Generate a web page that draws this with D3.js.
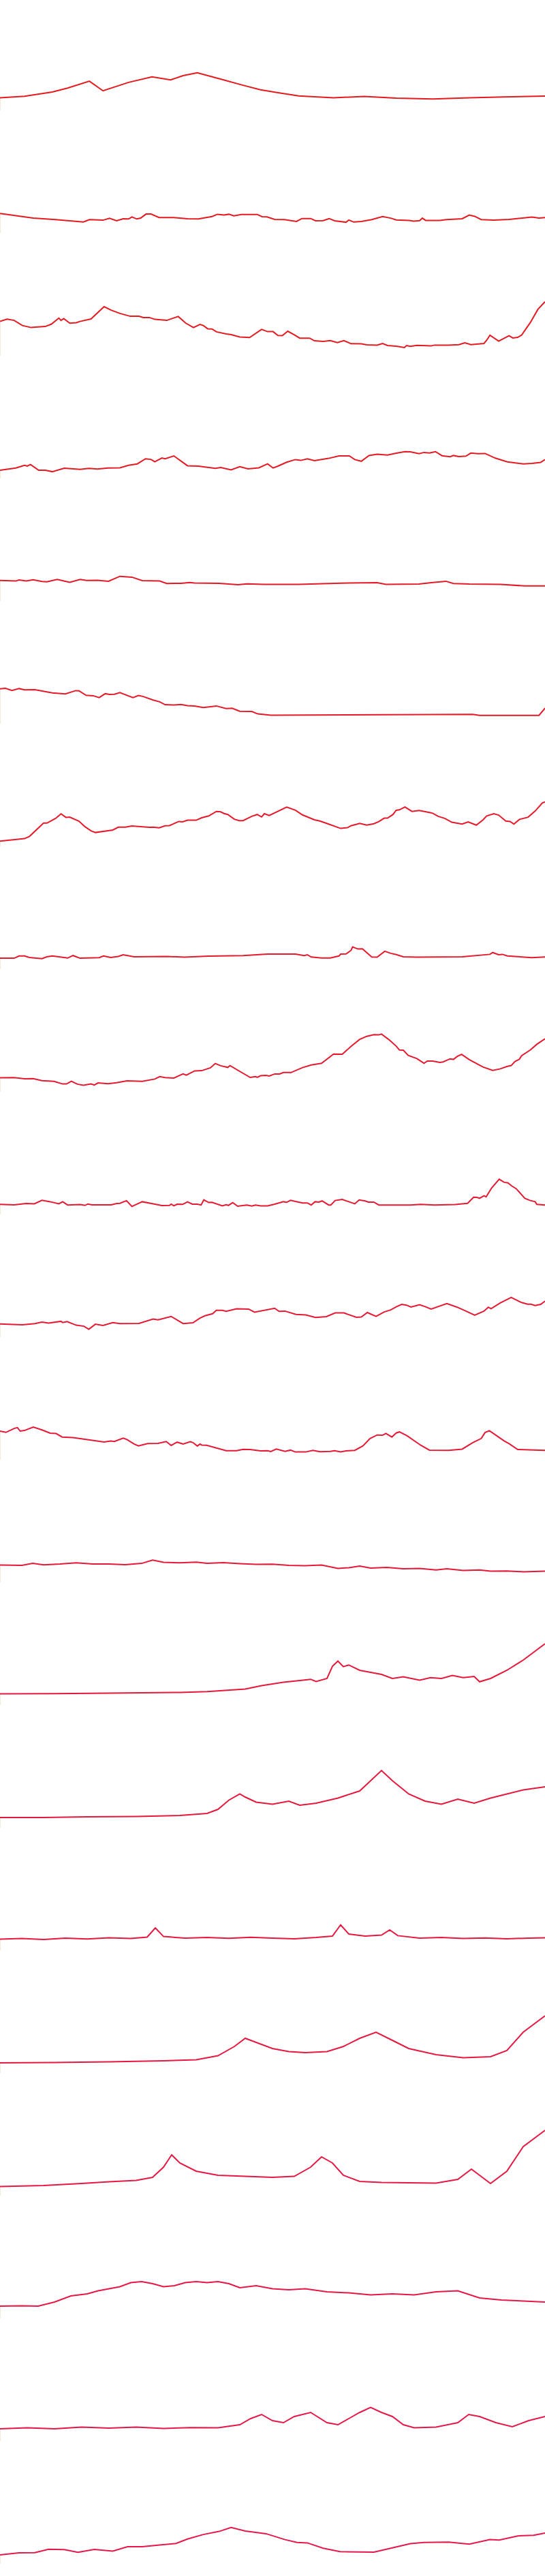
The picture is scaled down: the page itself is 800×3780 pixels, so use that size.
<!DOCTYPE html>
<html lang="en">
<head>
<meta charset="UTF-8">
<title>Sparklines</title>
<script src="https://cdn.jsdelivr.net/npm/d3@7"></script>
<style>
*{margin:0;padding:0;box-sizing:border-box}
body{background:#fff}
svg{display:block}
</style>
</head>
<body>
<div id="chart"></div>
<script>
// one t (0-100) and one value array per small panel
const T01=[0,4.5,9.6,12.4,16.4,18.9,23.6,27.9,31.3,33.6,36.2,40.8,44.6,47.8,51.0,54.8,61.2,66.8,72.7,79.4,86.1,92.5,100];
const V01=[6.2,6.9,9.0,10.9,14.3,9.6,13.7,16.4,14.9,17.0,18.4,15.1,12.3,10.1,8.7,7.1,6.2,6.8,6.0,5.6,6.2,6.6,7.0];

const T02=[0,6.1,10.2,15.3,16.4,18.9,20.1,21.4,22.6,23.6,24.2,25.1,25.8,26.8,27.7,29.2,31.9,34.4,36.4,38.9,39.9,41.1,42.0,42.9,44.3,47.2,48.1,49.0,50.4,52.2,54.4,55.4,57.0,57.9,59.3,60.4,61.4,63.5,64.0,64.9,66.3,68.2,70.2,71.7,72.7,75.1,75.9,77.0,77.5,78.1,80.7,81.9,84.8,86.1,87.1,88.3,90.6,93.4,97.6,98.9,100];
const V02=[9.6,7.3,6.6,5.4,6.6,6.3,7.2,6.0,7.0,6.9,7.9,6.9,7.3,9.3,9.3,7.6,7.6,7.0,6.9,8.1,9.2,8.8,9.2,8.4,9.1,9.1,8.0,7.9,6.7,6.6,5.7,7.1,7.1,6.0,6.1,7.1,6.0,5.3,6.4,5.4,5.7,6.6,8.1,7.3,6.4,6.2,5.8,6.1,7.3,6.2,6.2,6.6,7.0,8.8,8.2,6.6,6.3,6.7,7.8,7.3,7.6];

const T03=[0,1.3,2.6,4.1,5.7,8.3,9.4,10.8,11.2,11.7,12.8,14.0,14.7,16.7,19.1,20.4,22.0,23.9,25.5,26.3,27.4,28.4,30.6,32.7,34.1,35.5,36.7,37.3,38.1,38.9,39.7,41.5,42.4,44.0,45.8,48.0,49.1,50.1,51.0,51.8,52.8,53.9,55.0,56.8,57.7,59.3,60.6,61.9,63.1,64.4,66.3,67.3,69.2,70.2,71.1,72.7,74.2,74.6,75.3,76.5,79.1,79.7,82.3,84.2,85.3,86.4,88.8,89.3,89.9,91.5,93.4,94.1,95.0,95.7,97.3,98.7,100];
const V03=[16.8,17.9,17.3,14.8,13.8,14.3,15.4,18.4,17.3,18.2,15.9,16.2,16.8,18.0,24.0,22.3,20.7,19.3,19.3,18.7,18.7,17.8,17.3,19.2,15.9,13.8,15.3,14.8,13.2,13.1,11.7,10.7,10.3,9.2,8.9,12.9,11.8,11.8,9.9,9.8,12.0,10.4,8.6,8.6,7.3,7.0,7.4,6.4,7.4,5.9,5.8,5.3,5.2,6.0,5.0,4.7,4.0,5.0,4.6,5.1,4.8,5.2,5.2,5.4,6.3,5.4,6.0,7.6,10.0,7.1,9.8,8.7,9.0,10.1,16.2,22.7,26.4];

const T04=[0,2.9,4.5,5.0,5.6,7.1,8.3,9.6,11.8,14.7,16.3,17.9,19.8,22.0,23.6,25.2,26.7,27.7,28.4,29.7,30.3,31.9,34.4,36.4,39.5,40.5,42.4,44.0,45.5,47.5,49.1,50.1,51.0,52.6,54.2,55.2,56.4,57.7,60.3,62.2,64.1,65.1,66.3,67.7,69.2,71.1,72.7,74.3,75.3,76.9,77.8,78.8,79.9,81.1,82.6,83.2,84.2,85.5,86.4,87.7,89.0,90.9,93.1,96.0,97.6,99.2,100];
const V04=[4.0,5.1,6.4,6.0,6.8,4.0,4.0,3.3,5.0,4.4,4.9,4.6,5.1,5.2,6.4,7.1,9.6,9.3,8.1,10.0,9.6,11.0,6.2,6.0,4.9,5.3,4.2,5.7,4.7,5.2,7.1,5.1,6.0,7.9,9.2,8.8,9.6,8.7,9.8,11.0,11.0,9.2,8.4,11.2,11.8,11.4,12.3,13.1,13.0,12.1,12.7,12.4,13.1,11.1,10.6,11.2,10.7,10.9,12.4,12.1,12.2,9.9,8.1,7.1,7.3,7.8,9.2];

const T05=[0,2.9,3.5,4.8,6.1,7.7,8.6,10.5,12.8,14.7,15.9,17.9,19.9,22.0,24.2,26.1,29.3,30.6,33.2,34.8,35.7,40.2,43.7,45.3,48.5,54.8,63.8,69.2,70.8,76.9,79.1,81.8,83.2,86.1,91.8,96.3,100];
const V05=[10.1,9.8,10.3,9.8,10.4,9.6,9.4,10.6,9.2,10.6,10.1,10.2,9.7,12.1,11.7,10.0,9.8,8.6,8.7,9.1,8.8,8.7,8.0,8.4,8.2,8.2,8.8,9.0,8.2,8.3,9.0,9.7,8.6,8.3,8.2,7.4,7.4];

const T06=[0,1.0,2.2,3.5,4.5,6.4,9.6,12.0,13.9,14.5,15.8,17.1,18.2,19.3,20.1,21.0,22.0,24.4,25.4,26.3,28.1,29.3,30.3,31.9,33.2,34.4,35.7,37.3,39.7,41.5,42.6,44.0,46.2,47.3,49.7,86.7,88.0,98.9,100];
const V06=[17.1,17.3,16.3,17.2,16.6,16.7,15.1,14.6,16.2,16.1,13.9,13.7,12.8,14.7,14.3,14.4,15.2,12.8,13.8,13.3,11.6,10.7,9.3,9.2,9.4,8.8,8.7,7.9,8.7,7.4,7.6,6.1,6.0,4.8,4.2,4.6,4.1,4.1,7.6];

const T07=[0,4.5,5.4,7.7,8.0,8.6,10.2,11.2,12.1,12.8,14.5,15.6,16.7,17.5,20.7,21.7,23.0,24.2,27.4,28.1,29.2,30.3,31.1,32.8,33.5,34.4,36.0,37.0,38.3,39.7,40.5,41.1,41.8,43.0,43.9,44.6,46.2,47.2,48.0,48.5,49.4,52.6,54.2,55.5,57.7,58.7,60.3,62.5,63.8,64.4,66.0,67.3,68.6,69.5,70.5,71.1,72.1,72.7,73.3,74.3,75.6,76.9,78.8,79.4,80.4,81.6,82.9,84.8,85.9,87.4,88.6,89.3,90.6,91.5,92.8,93.6,94.3,95.3,96.9,98.2,99.5,100];
const V07=[2.6,3.8,4.9,10.7,11.4,11.4,13.7,15.9,14.2,14.3,12.3,9.6,7.6,6.8,8.0,9.4,9.4,10.0,9.3,9.4,9.1,10.1,10.2,12.2,12.0,12.8,12.8,14.0,14.9,17.1,16.9,16.1,15.6,13.3,12.6,12.6,14.7,15.6,14.4,16.0,15.1,19.2,17.7,15.4,13.0,12.4,10.9,8.8,9.2,10.1,11.2,10.4,11.1,12.1,13.8,13.8,15.6,17.7,17.9,19.3,17.1,17.6,16.6,16.2,14.7,13.7,11.8,10.9,12.0,10.4,12.9,14.9,16.0,15.3,12.4,12.2,10.9,13.2,14.3,17.3,21.2,21.8];

const T08=[0,2.6,3.5,4.5,5.4,7.7,8.6,9.6,12.4,13.4,14.7,18.2,19.0,20.3,21.7,22.6,24.6,30.6,33.8,38.3,44.6,49.1,54.2,55.8,56.4,57.1,59.0,60.6,62.2,62.5,63.5,64.4,64.7,65.7,66.5,68.2,69.2,70.6,71.7,72.7,74.0,76.5,84.8,89.9,90.4,91.5,92.2,93.1,97.6,100];
const V08=[5.3,5.3,6.4,6.4,5.7,5.1,6.0,6.4,5.4,6.6,5.3,5.6,6.4,5.7,6.2,7.0,6.0,6.2,5.8,6.3,6.6,7.3,7.3,6.6,7.0,5.9,5.4,5.4,6.4,7.3,7.4,9.1,10.8,9.8,9.9,5.9,5.8,8.7,7.7,7.1,6.0,5.8,6.0,7.2,8.1,7.0,7.2,6.4,5.6,5.9];

const T09=[0,2.6,4.5,6.1,7.7,9.9,11.5,12.2,13.1,14.2,15.3,16.7,17.3,18.0,19.8,21.4,23.3,26.1,28.4,29.3,30.3,31.9,33.2,33.6,34.2,35.7,37.0,38.6,39.5,40.5,41.8,42.2,45.9,46.9,47.2,47.8,48.8,49.4,50.4,51.3,52.0,53.4,55.5,57.1,59.0,61.2,62.8,64.4,66.0,67.3,68.6,69.5,70.0,71.4,72.7,73.3,74.0,74.9,76.5,77.4,77.8,78.4,79.4,80.7,81.3,82.6,83.2,83.9,84.7,86.1,88.6,90.4,91.8,93.1,93.8,94.5,95.3,95.7,97.3,98.5,100];
const V09=[6.8,6.9,6.3,6.4,5.4,5.1,3.8,3.8,5.1,3.7,3.2,3.8,3.3,4.3,3.9,4.4,5.3,5.1,6.2,7.4,6.9,6.7,8.3,8.7,8.1,10.2,10.3,11.7,13.8,12.7,11.9,12.8,7.0,7.4,7.0,7.8,8.0,7.7,8.7,8.7,9.4,9.4,11.8,13.1,13.9,18.4,18.3,22.2,25.6,27.1,27.9,27.8,28.2,25.4,22.3,20.4,20.3,17.8,16.2,14.6,13.9,15.0,15.0,14.3,14.6,16.1,15.8,17.3,18.3,15.7,12.1,10.4,11.2,12.4,12.8,14.8,15.9,17.6,20.4,23.2,25.9];

const T10=[0,2.6,4.8,6.3,7.7,9.2,10.8,11.5,12.4,14.7,15.6,16.1,16.9,20.4,21.4,22.0,23.2,24.2,26.1,28.1,29.7,31.1,31.4,31.9,32.5,33.5,34.4,35.3,36.2,36.9,37.4,38.3,38.9,40.8,41.5,41.9,42.7,43.6,45.3,46.2,46.9,47.8,49.1,50.4,52.0,52.6,53.3,54.5,55.5,56.4,57.1,57.8,58.5,59.1,60.3,60.7,61.5,62.8,65.1,65.9,67.0,67.6,68.6,69.5,75.3,77.2,79.7,83.5,85.8,86.9,87.5,88.0,88.8,89.2,90.2,91.6,92.5,93.2,93.9,94.7,96.3,97.3,98.2,98.5,100];
const V10=[4.9,4.7,5.3,5.2,6.9,6.2,5.2,6.2,4.6,4.8,4.4,5.1,4.7,4.7,5.3,5.4,6.7,3.9,6.2,5.2,4.3,4.4,5.0,4.2,5.0,4.9,6.1,5.0,5.0,4.6,7.1,5.8,5.9,4.2,4.7,4.4,5.8,4.0,4.6,4.1,4.6,4.2,4.2,5.0,6.2,5.9,6.9,6.2,5.6,5.6,4.6,6.2,6.0,6.6,4.6,4.6,6.8,7.3,5.2,7.1,6.6,6.0,6.0,4.6,4.6,4.9,4.6,4.8,5.4,8.4,8.3,7.9,9.1,8.6,12.9,17.2,15.7,15.4,13.9,12.6,7.9,6.8,6.2,4.9,4.6];

const T11=[0,4.1,6.4,7.7,8.9,11.2,11.5,12.3,14.0,15.4,16.3,17.5,18.9,20.7,22.0,25.5,28.1,29.0,31.4,33.6,35.4,36.7,37.6,39.0,39.7,40.8,41.5,43.4,45.6,46.7,50.4,51.2,52.3,54.3,56.1,57.9,59.9,61.5,63.1,65.4,66.3,67.4,69.0,70.5,71.7,72.7,73.7,74.6,75.4,77.0,78.1,79.1,82.0,83.9,85.5,87.1,88.8,89.6,90.1,91.8,93.8,95.7,96.8,97.4,98.2,99.2,100];
const V11=[6.4,6.0,6.6,7.3,6.8,7.7,7.1,7.6,5.8,5.3,3.8,6.3,5.7,7.1,6.6,6.7,8.8,8.4,10.1,6.6,7.0,9.3,10.4,11.4,13.1,13.1,12.6,13.8,13.7,12.2,14.1,12.6,12.7,11.1,10.8,9.6,10.0,11.8,11.8,9.7,9.8,12.0,10.1,12.3,13.3,14.8,16.0,15.6,14.7,15.8,14.8,13.7,16.4,14.6,12.7,10.7,12.7,14.6,13.9,16.7,19.4,16.9,16.1,16.1,15.4,16.0,17.6];

const T12=[0,1.1,2.6,3.2,3.7,4.5,6.1,7.7,9.2,10.3,11.4,13.4,19.1,20.3,21.0,22.6,23.3,24.6,25.4,27.1,29.0,30.5,31.4,32.5,33.6,34.9,35.4,36.2,36.7,37.0,37.9,41.5,43.4,44.6,45.9,47.8,49.1,49.7,50.7,52.3,53.3,54.2,56.1,57.4,58.7,60.6,61.4,62.5,63.5,65.1,66.6,67.9,69.2,70.2,70.8,71.9,72.7,73.3,74.7,77.2,78.8,82.3,84.8,86.7,88.3,89.0,89.8,92.5,93.4,95.0,100];
const V12=[14.0,13.4,15.3,15.7,14.0,14.3,16.0,14.6,13.0,12.8,11.1,10.8,8.7,9.2,8.9,10.6,9.9,7.7,6.8,7.9,8.0,8.9,7.0,8.6,7.7,8.8,8.4,6.7,7.7,7.2,7.1,4.4,4.4,5.1,5.0,4.3,4.4,4.0,5.2,4.1,4.7,3.8,3.8,4.6,3.9,4.1,4.4,3.8,4.3,4.6,6.8,10.4,12.1,12.0,12.9,11.1,13.1,13.6,11.7,7.1,4.7,4.6,5.2,8.3,10.4,13.3,14.2,9.2,7.9,5.0,4.6];

const T13=[0,4,6,8,11,14,17,20,23,26,28,30,33,36,38,41,44,47,50,53,56,59,62,64,66,68,71,74,77,80,82,85,88,90,93,96,100];
const V13=[8.5,8.3,9.3,8.6,9.0,9.6,9.0,9.0,8.7,9.3,10.9,9.8,9.6,9.9,9.3,9.7,9.2,8.8,8.9,8.3,8.2,8.5,6.8,7.2,8.0,7.0,7.3,6.7,6.8,6.1,6.7,5.8,6.1,5.5,5.6,5.2,5.5];

const T14=[0,10,20,33,38,45,48,52,55,57,58,60,61,62,63,64,66,70,72,74,77,79,81,83,85,87,88,90,93,96,100];
const V14=[5.5,5.6,5.8,6.2,6.6,7.8,9.5,11.2,12.0,12.6,11.5,13.0,19.0,21.5,18.8,19.6,17.0,15.0,13.0,13.8,12.2,13.4,13.0,14.5,13.4,14.0,11.4,13.0,17.0,22.0,30.0];

const T15=[0,8,16,25,33,38,40,42,44,45,47,50,53,55,58,62,66,70,72,75,78,81,84,87,90,93,96,100];
const V15=[5.0,5.0,5.3,5.5,6.0,7.0,9.0,13.5,16.5,15.0,12.5,11.5,13.0,11.0,12.0,14.5,18.0,28.0,23.0,16.5,13.0,11.5,14.0,12.0,14.5,16.5,18.5,20.0];

const T16=[0,4,8,12,16,20,24,27,28.5,30,34,38,42,46,50,54,58,61,62.5,64,67,70,71.5,73,77,81,85,89,93,97,100];
const V16=[5.5,5.8,5.3,6.0,5.6,6.2,5.8,6.5,11.0,6.8,6.0,6.3,5.9,6.4,6.0,5.7,6.3,7.0,12.5,8.0,7.0,7.5,10.0,7.2,6.0,6.3,5.8,6.1,5.7,6.0,6.2];

const T17=[0,10,20,30,36,40,43,45,47,50,53,56,60,63,66,69,72,75,80,85,90,93,96,100];
const V17=[5.0,5.2,5.5,6.0,6.5,8.5,13.0,17.0,15.0,12.0,10.5,10.0,10.5,13.0,17.0,20.0,16.0,12.0,9.0,7.5,8.0,11.0,20.0,28.0];

const T18=[0,8,15,20,25,28,30,31.5,33,36,40,45,50,54,57,59,61,63,66,70,75,80,84,86.5,88,90,93,96,100];
const V18=[4.5,5.0,6.0,6.8,7.5,9.0,14.0,20.0,16.0,12.0,10.0,9.5,9.0,9.5,14.0,19.0,16.0,10.0,7.0,6.5,6.3,6.2,8.0,13.0,10.0,6.0,12.0,24.0,32.0];

const T19=[0,4,7,10,13,16,18,20,22,24,26,28,30,32,34,36,38,40,42,44,47,50,53,56,60,64,68,72,76,80,84,88,92,96,100];
const V19=[6.0,6.2,6.0,8.0,11.0,12.0,13.5,14.5,15.5,17.5,18.0,17.0,15.5,16.0,17.5,18.0,17.5,18.0,17.0,15.0,16.0,14.5,14.0,14.5,13.0,12.5,11.5,12.0,11.5,13.0,13.5,10.0,9.0,8.5,8.0];

const T20=[0,5,10,15,20,25,30,35,40,44,46,48,50,52,54,57,60,62,64,66,68,70,72,74,76,80,84,86,88,91,94,97,100];
const V20=[6.0,6.5,6.0,6.8,6.3,6.8,6.2,6.6,6.5,8.0,11.0,13.0,10.0,9.0,12.0,14.0,9.0,8.0,11.0,14.0,16.5,14.0,12.0,8.0,6.5,6.8,9.0,13.0,12.0,9.0,7.0,10.0,12.0];

const T21=[0,3.5,6.4,8.9,11.8,14.3,17.3,20.7,23.4,26.1,29.3,32.3,34.4,37.3,40.2,42.4,45.0,48.8,52.3,54.5,56.4,59.3,62.4,68.6,72.1,75.3,77.8,82.3,86.1,89.9,91.6,95.0,97.9,100];
const V21=[4.3,5.3,5.4,7.1,6.9,5.6,7.0,6.2,8.3,8.3,9.2,9.9,12.1,14.3,15.8,17.7,16.0,14.7,11.8,10.4,10.2,7.6,5.9,5.7,7.8,9.8,10.4,10.6,9.6,11.8,11.6,13.6,13.9,15.0];

const panels=[[T01,V01],[T02,V02],[T03,V03],[T04,V04],[T05,V05],[T06,V06],[T07,V07],
  [T08,V08],[T09,V09],[T10,V10],[T11,V11],[T12,V12],[T13,V13],[T14,V14],
  [T15,V15],[T16,V16],[T17,V17],[T18,V18],[T19,V19],[T20,V20],[T21,V21]];

const W=800,PH=180,N=panels.length;
const x=d3.scaleLinear().domain([0,100]).range([0,W]);
const y=d3.scaleLinear().domain([0,50]).range([162,12]);
const col=d3.scaleLinear().domain([0,N-1]).range(['#e41a1c','#e6174a']);
const line=d3.line().x(d=>x(d[0])).y(d=>y(d[1]));

const svg=d3.select('#chart').append('svg').attr('width',W).attr('height',PH*N);
panels.forEach(([t,v],i)=>{
  const g=svg.append('g').attr('transform','translate(0,'+i*PH+')');
  // faint left edge from the first value down to the baseline
  g.append('line').attr('x1',0.5).attr('x2',0.5).attr('y1',y(v[0])).attr('y2',y(0))
    .attr('stroke','#f3e8da').attr('stroke-width',1);
  g.append('path').datum(d3.zip(t,v)).attr('d',line)
    .attr('fill','none').attr('stroke',col(i)).attr('stroke-width',2);
});
</script>
</body>
</html>
